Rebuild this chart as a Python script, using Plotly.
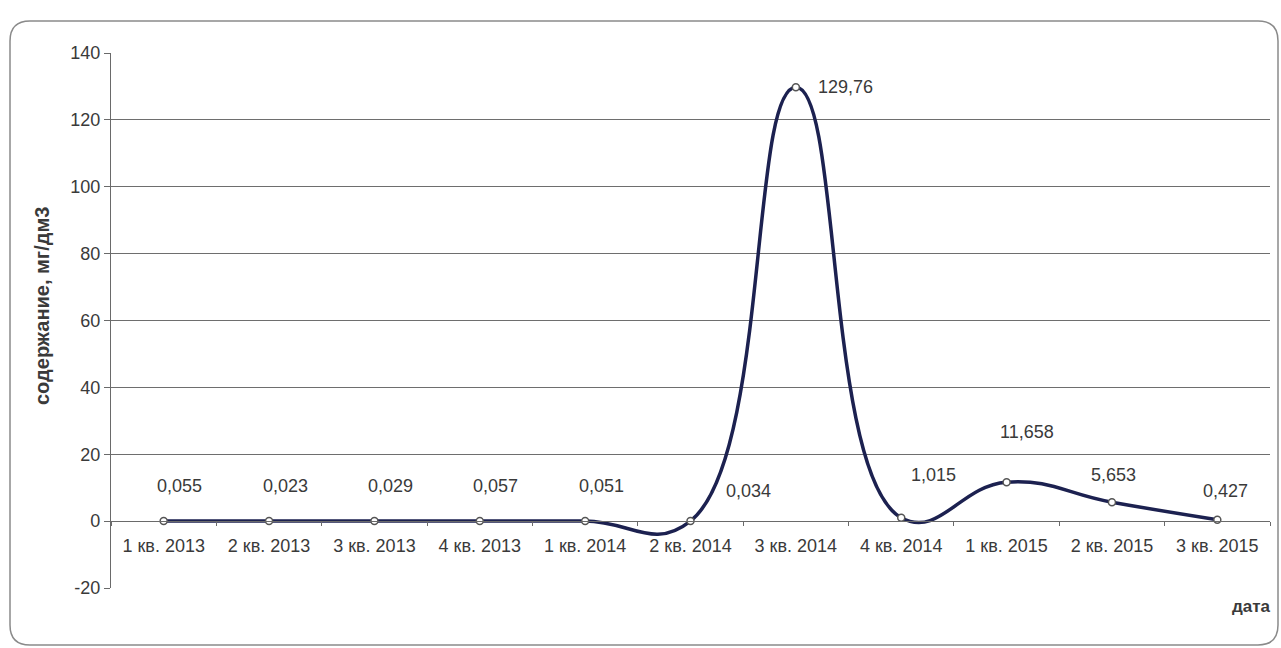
import plotly.graph_objects as go

categories = ["1 кв. 2013", "2 кв. 2013", "3 кв. 2013", "4 кв. 2013", "1 кв. 2014",
              "2 кв. 2014", "3 кв. 2014", "4 кв. 2014", "1 кв. 2015", "2 кв. 2015", "3 кв. 2015"]
values = [0.055, 0.023, 0.029, 0.057, 0.051, 0.034, 129.76, 1.015, 11.658, 5.653, 0.427]
labels = ["0,055", "0,023", "0,029", "0,057", "0,051", "0,034", "129,76", "1,015", "11,658", "5,653", "0,427"]
y_ticks = [-20, 0, 20, 40, 60, 80, 100, 120, 140]
y_tick_text = ["-20", "0", "20", "40", "60", "80", "100", "120", "140"]

# label offsets in pixels (style)
label_dx = [16, 16, 16, 16, 16, 58, 50, 32, 20, 2, 8]
label_dy = [35, 35, 35, 35, 35, 30, 0, 43, 50, 27, 29]

W, H = 1281, 648
ML, MR, MT, MB = 111, 11, 53, 60
PW, PH = W - ML - MR, H - MT - MB

def px(x):
    return (x - ML) / PW

def py(y):
    return (H - MB - y) / PH

TXT = "#3a3a3a"
FONT = "Liberation Sans, Arial, sans-serif"

fig = go.Figure()
fig.add_trace(go.Scatter(
    x=categories, y=values, mode="lines+markers",
    line=dict(color="#1c2150", width=3.5, shape="spline", smoothing=1.3),
    marker=dict(size=7, color="white", line=dict(color="#555", width=1.5)),
    cliponaxis=False, showlegend=False,
))

for c, v, t, dx, dy in zip(categories, values, labels, label_dx, label_dy):
    fig.add_annotation(x=c, y=v, text=t, showarrow=False, xshift=dx, yshift=dy,
                       font=dict(size=18, color=TXT, family=FONT))

fig.add_annotation(xref="paper", yref="paper", x=px(1273), y=py(606),
                   xanchor="right", yanchor="middle",
                   text="<b>дата</b>", showarrow=False, font=dict(size=17, color=TXT, family=FONT))

fig.add_annotation(xref="paper", yref="paper", x=px(42), y=py(306), textangle=-90,
                   xanchor="center", yanchor="middle",
                   text="<b>содержание, мг/дм3</b>", showarrow=False,
                   font=dict(size=20, color=TXT, family=FONT))

# rounded outer border
x0, y0, x1, y1, r = 10, 21, 1278, 645, 20
path = (f"M {px(x0 + r)},{py(y0)} L {px(x1 - r)},{py(y0)} Q {px(x1)},{py(y0)} {px(x1)},{py(y0 + r)} "
        f"L {px(x1)},{py(y1 - r)} Q {px(x1)},{py(y1)} {px(x1 - r)},{py(y1)} "
        f"L {px(x0 + r)},{py(y1)} Q {px(x0)},{py(y1)} {px(x0)},{py(y1 - r)} "
        f"L {px(x0)},{py(y0 + r)} Q {px(x0)},{py(y0)} {px(x0 + r)},{py(y0)} Z")
fig.add_shape(type="path", path=path, xref="paper", yref="paper",
              line=dict(color="#8a8a8a", width=1.5), layer="below")

fig.update_layout(
    width=W, height=H,
    margin=dict(l=ML, r=MR, t=MT, b=MB),
    paper_bgcolor="white", plot_bgcolor="white",
    font=dict(family=FONT, color=TXT),
    xaxis=dict(
        type="category", range=[-0.5, len(categories) - 0.5],
        anchor="free", position=20 / 160,
        showgrid=False, showline=True, linecolor="#6a6a6a", linewidth=1.4,
        ticks="outside", tickson="boundaries", ticklen=4, tickcolor="#6a6a6a",
        ticklabelstandoff=8,
        tickfont=dict(size=18, color=TXT, family=FONT),
        zeroline=False,
    ),
    yaxis=dict(
        range=[-20, 140], tickvals=y_ticks, ticktext=y_tick_text,
        showgrid=True, gridcolor="#6e6e6e", gridwidth=1.3,
        showline=True, linecolor="#6a6a6a", linewidth=1.4,
        ticks="outside", ticklen=6, tickcolor="#6a6a6a",
        tickfont=dict(size=18, color=TXT, family=FONT),
        zeroline=False,
    ),
)

fig.write_html("out.html")
